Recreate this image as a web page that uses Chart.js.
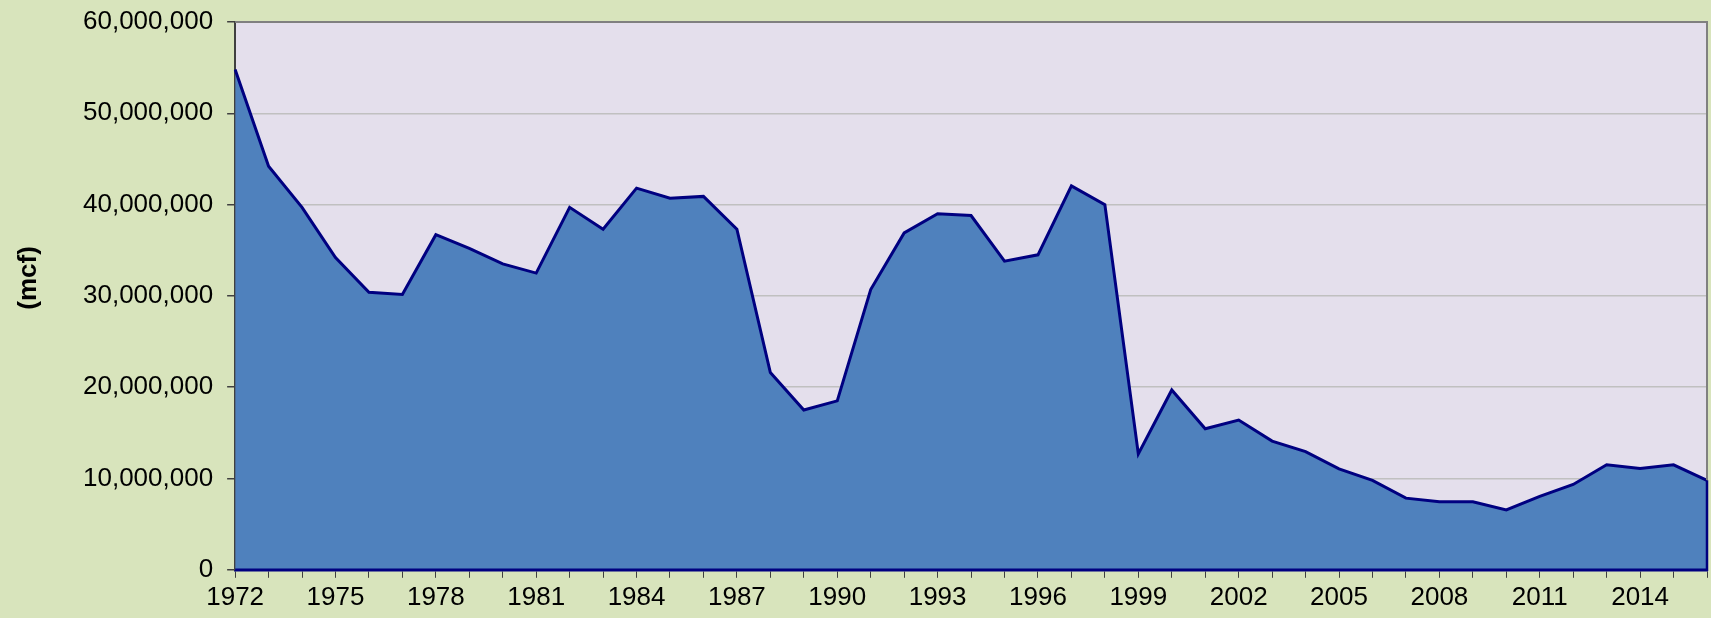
<!DOCTYPE html>
<html>
<head>
<meta charset="utf-8">
<script src="https://cdn.jsdelivr.net/npm/chart.js@4.4.0/dist/chart.umd.min.js"></script>
<style>
  html, body { margin: 0; padding: 0; background: #D8E4BC; }
  #wrap { width: 1711px; height: 618px; position: relative; }
</style>
</head>
<body>
<div id="wrap"><canvas id="myChart"></canvas></div>
<script>
var years = [
    '1972', '1973', '1974', '1975', '1976', '1977', '1978', '1979', '1980', '1981',
    '1982', '1983', '1984', '1985', '1986', '1987', '1988', '1989', '1990', '1991',
    '1992', '1993', '1994', '1995', '1996', '1997', '1998', '1999', '2000', '2001',
    '2002', '2003', '2004', '2005', '2006', '2007', '2008', '2009', '2010', '2011',
    '2012', '2013', '2014', '2015', '2016'
];

// volume, mcf
var volumes = [
    54800000, 44200000, 39700000, 34200000, 30400000, 30150000, 36700000, 35200000, 33500000, 32500000,
    39700000, 37300000, 41800000, 40700000, 40900000, 37300000, 21600000, 17500000, 18500000, 30700000,
    36900000, 39000000, 38800000, 33800000, 34500000, 42050000, 40000000, 12700000, 19700000, 15450000,
    16400000, 14100000, 12950000, 11050000, 9800000, 7850000, 7450000, 7450000, 6550000, 8050000,
    9350000, 11500000, 11100000, 11500000, 9800000
];

var yTicks = [0, 10000000, 20000000, 30000000, 40000000, 50000000, 60000000];

var axisTitle = '(mcf)';

// plot background + border
var plotFrame = {
    id: 'plotFrame',
    beforeDraw: function (chart) {
        var a = chart.chartArea;
        var ctx = chart.ctx;
        ctx.save();
        ctx.fillStyle = '#E4DFEC';
        ctx.fillRect(a.left, a.top, a.right - a.left, a.bottom - a.top);
        ctx.restore();
    },
    afterDatasetsDraw: function (chart) {
        var a = chart.chartArea;
        var ctx = chart.ctx;
        var pts = chart.getDatasetMeta(0).data;
        var last = pts[pts.length - 1];
        ctx.save();
        ctx.strokeStyle = '#808080';
        ctx.lineWidth = 2;
        ctx.beginPath();
        ctx.moveTo(a.left, a.top);
        ctx.lineTo(a.right, a.top);
        ctx.lineTo(a.right, last.y);
        ctx.stroke();
        ctx.strokeStyle = '#000080';
        ctx.lineWidth = 2.5;
        ctx.beginPath();
        ctx.moveTo(last.x, last.y);
        ctx.lineTo(last.x, a.bottom);
        ctx.lineTo(a.left, a.bottom);
        ctx.stroke();
        ctx.restore();
    },
    // axis title sits a bit above the middle of the plot
    afterDraw: function (chart) {
        var a = chart.chartArea;
        var ctx = chart.ctx;
        ctx.save();
        ctx.translate(29, (a.top + a.bottom) / 2 - 18);
        ctx.rotate(-Math.PI / 2);
        ctx.fillStyle = '#000000';
        ctx.font = 'bold 26px "Liberation Sans", Arial, sans-serif';
        ctx.textAlign = 'center';
        ctx.textBaseline = 'middle';
        ctx.fillText(axisTitle, 0, 0);
        ctx.restore();
    }
};

var ctx = document.getElementById('myChart');

var data = {
    labels: years,
    datasets: [{
        label: 'Volume',
        data: volumes,
        fill: 'origin',
        backgroundColor: '#4F81BD',
        borderColor: '#000080',
        borderWidth: 3,
        pointRadius: 0,
        tension: 0
    }]
};

var option = {
    responsive: true,
    maintainAspectRatio: false,
    animation: false,
    layout: {
        padding: { left: 69, right: 3, top: 22, bottom: 1 }
    },
    plugins: {
        legend: { display: false },
        tooltip: { enabled: false }
    },
    scales: {
        x: {
            offset: false,
            grid: {
                drawOnChartArea: false,
                drawTicks: true,
                tickLength: 8,
                color: '#404040'
            },
            border: { color: '#000080', width: 2.5 },
            ticks: {
                autoSkip: false,
                maxRotation: 0,
                color: '#000000',
                padding: 4,
                font: { family: '"Liberation Sans", Arial, sans-serif', size: 26 },
                callback: function (val, index) {
                    return index % 3 === 0 ? years[index] : '';
                }
            }
        },
        y: {
            min: 0,
            max: 60000000,
            afterBuildTicks: function (axis) {
                axis.ticks = yTicks.map(function (v) { return { value: v }; });
            },
            afterFit: function (axis) {
                axis.paddingTop = 0;
                axis.paddingBottom = 0;
            },
            grid: {
                color: '#C0C0C0',
                lineWidth: 1.5,
                tickLength: 8,
                tickColor: '#404040'
            },
            border: { color: '#404040', width: 2 },
            ticks: {
                color: '#000000',
                padding: 14,
                font: { family: '"Liberation Sans", Arial, sans-serif', size: 26 },
                callback: function (val) {
                    return val.toLocaleString('en-US');
                }
            }
        }
    }
};

var myChart = new Chart(ctx, {
    type: 'line',
    data: data,
    options: option,
    plugins: [plotFrame]
});
</script>
</body>
</html>
